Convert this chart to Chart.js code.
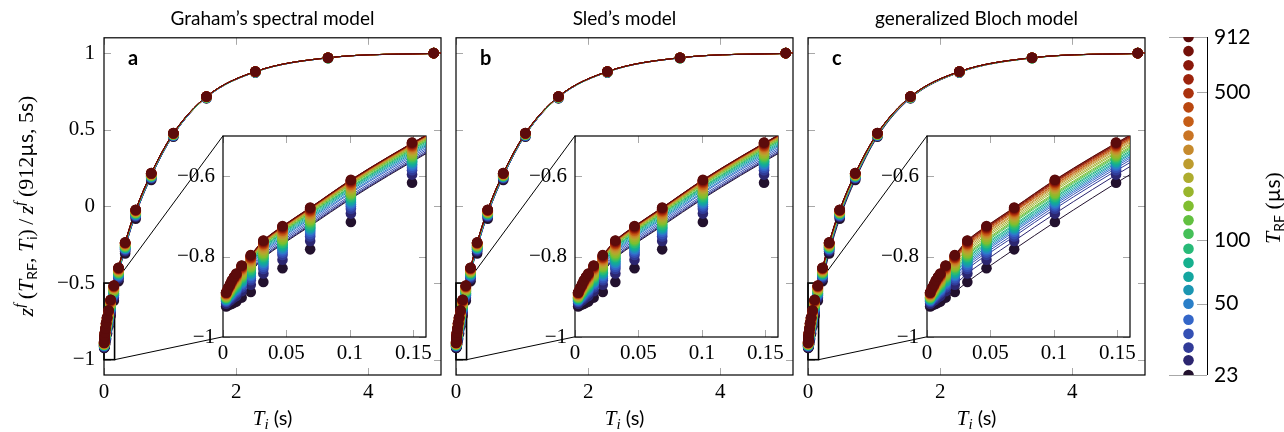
<!DOCTYPE html>
<html lang="en">
<head>
<meta charset="UTF-8">
<title>Inversion recovery, three MT models</title>
<script src="https://cdn.jsdelivr.net/npm/chart.js"></script>
<style>
  body { margin: 0; background: #fff; }
  #wrap { position: relative; width: 1284px; height: 432px; overflow: hidden; }
  #wrap canvas { position: absolute; }
</style>
</head>
<body>
<div id="wrap"></div>
<script>
// inversion times of the measured points (s)
const tiMeasured = [0.0025, 0.004, 0.0055, 0.007, 0.0087, 0.0105, 0.0147, 0.0219, 0.0318, 0.0469, 0.0687, 0.1008, 0.149, 0.22, 0.32, 0.48, 0.715, 1.05, 1.55, 2.29, 3.39, 4.99];
// RF pulse durations (µs), short to long
const trfValues = [23, 27, 31, 36, 42, 50, 58, 67, 78, 91, 107, 124, 145, 169, 197, 229, 267, 312, 363, 424, 494, 575, 671, 782, 912];
const trfColors = ['#22112e', '#2c2670', '#313b98', '#3450b4', '#3466c8', '#2a7fc8', '#1b96b2', '#14a6a0', '#16b08e', '#28ba78',
  '#45c058', '#62c040', '#80be30', '#99b52c', '#aeac2e', '#bd9c2e', '#c68a2c', '#c97424', '#c55d17', '#b9470f',
  '#aa320e', '#9c230c', '#8a180b', '#741009', '#5c0b0b'];

// normalised z-magnetisation, one row per T_RF (same order as trfValues)
const zMeasured = [
  [-0.924, -0.921, -0.919, -0.917, -0.914, -0.912, -0.902, -0.888, -0.863, -0.829, -0.782, -0.714, -0.616, -0.488, -0.307, -0.080, 0.173, 0.454, 0.705, 0.874, 0.968, 1.000],
  [-0.917, -0.912, -0.909, -0.905, -0.901, -0.898, -0.886, -0.870, -0.842, -0.808, -0.761, -0.693, -0.596, -0.470, -0.293, -0.068, 0.182, 0.459, 0.707, 0.875, 0.968, 1.000],
  [-0.913, -0.908, -0.904, -0.899, -0.894, -0.890, -0.877, -0.859, -0.831, -0.796, -0.750, -0.681, -0.585, -0.461, -0.285, -0.062, 0.187, 0.461, 0.709, 0.876, 0.969, 1.000],
  [-0.911, -0.905, -0.901, -0.896, -0.890, -0.886, -0.872, -0.854, -0.825, -0.790, -0.744, -0.675, -0.579, -0.455, -0.280, -0.059, 0.189, 0.463, 0.709, 0.876, 0.969, 1.000],
  [-0.909, -0.903, -0.898, -0.893, -0.887, -0.883, -0.868, -0.849, -0.820, -0.785, -0.738, -0.670, -0.574, -0.451, -0.277, -0.056, 0.191, 0.464, 0.710, 0.877, 0.969, 1.000],
  [-0.908, -0.901, -0.896, -0.890, -0.885, -0.880, -0.865, -0.846, -0.816, -0.781, -0.734, -0.666, -0.570, -0.448, -0.274, -0.053, 0.193, 0.465, 0.711, 0.877, 0.969, 1.000],
  [-0.907, -0.900, -0.894, -0.888, -0.882, -0.877, -0.862, -0.842, -0.812, -0.777, -0.730, -0.662, -0.566, -0.444, -0.271, -0.051, 0.195, 0.466, 0.711, 0.877, 0.969, 1.000],
  [-0.905, -0.898, -0.893, -0.886, -0.880, -0.875, -0.860, -0.839, -0.808, -0.773, -0.727, -0.658, -0.563, -0.441, -0.269, -0.049, 0.196, 0.467, 0.711, 0.877, 0.969, 1.000],
  [-0.904, -0.896, -0.891, -0.884, -0.878, -0.872, -0.856, -0.836, -0.804, -0.769, -0.723, -0.654, -0.559, -0.438, -0.266, -0.047, 0.198, 0.468, 0.712, 0.877, 0.969, 1.000],
  [-0.903, -0.895, -0.889, -0.882, -0.876, -0.870, -0.854, -0.833, -0.801, -0.766, -0.720, -0.651, -0.556, -0.435, -0.264, -0.045, 0.199, 0.468, 0.712, 0.878, 0.969, 1.000],
  [-0.902, -0.893, -0.887, -0.880, -0.873, -0.867, -0.851, -0.829, -0.797, -0.762, -0.715, -0.647, -0.552, -0.432, -0.261, -0.043, 0.201, 0.469, 0.713, 0.878, 0.969, 1.000],
  [-0.901, -0.892, -0.886, -0.878, -0.871, -0.865, -0.848, -0.826, -0.794, -0.759, -0.712, -0.644, -0.549, -0.429, -0.259, -0.041, 0.202, 0.470, 0.713, 0.878, 0.969, 1.000],
  [-0.900, -0.891, -0.884, -0.876, -0.869, -0.863, -0.846, -0.824, -0.791, -0.756, -0.709, -0.641, -0.546, -0.426, -0.257, -0.039, 0.204, 0.471, 0.713, 0.878, 0.969, 1.000],
  [-0.898, -0.889, -0.882, -0.874, -0.867, -0.860, -0.843, -0.820, -0.787, -0.751, -0.705, -0.636, -0.542, -0.423, -0.254, -0.037, 0.206, 0.472, 0.714, 0.878, 0.969, 1.000],
  [-0.897, -0.887, -0.880, -0.872, -0.864, -0.857, -0.840, -0.816, -0.783, -0.747, -0.701, -0.632, -0.538, -0.419, -0.251, -0.035, 0.207, 0.473, 0.714, 0.879, 0.970, 1.000],
  [-0.895, -0.886, -0.878, -0.869, -0.862, -0.855, -0.836, -0.813, -0.779, -0.743, -0.697, -0.628, -0.534, -0.416, -0.248, -0.032, 0.209, 0.474, 0.715, 0.879, 0.970, 1.000],
  [-0.894, -0.884, -0.877, -0.868, -0.860, -0.853, -0.834, -0.810, -0.775, -0.740, -0.694, -0.625, -0.531, -0.413, -0.246, -0.031, 0.210, 0.474, 0.715, 0.879, 0.970, 1.000],
  [-0.893, -0.883, -0.875, -0.866, -0.858, -0.850, -0.832, -0.807, -0.772, -0.737, -0.690, -0.622, -0.528, -0.411, -0.244, -0.029, 0.212, 0.475, 0.716, 0.879, 0.970, 1.000],
  [-0.893, -0.882, -0.874, -0.865, -0.856, -0.849, -0.830, -0.805, -0.770, -0.735, -0.688, -0.620, -0.526, -0.409, -0.242, -0.028, 0.213, 0.476, 0.716, 0.879, 0.970, 1.000],
  [-0.892, -0.881, -0.873, -0.864, -0.855, -0.848, -0.828, -0.803, -0.768, -0.732, -0.686, -0.617, -0.524, -0.407, -0.241, -0.027, 0.213, 0.476, 0.716, 0.880, 0.970, 1.000],
  [-0.891, -0.881, -0.872, -0.862, -0.854, -0.846, -0.827, -0.802, -0.766, -0.730, -0.684, -0.615, -0.522, -0.405, -0.239, -0.025, 0.214, 0.477, 0.716, 0.880, 0.970, 1.000],
  [-0.890, -0.880, -0.871, -0.861, -0.853, -0.845, -0.825, -0.800, -0.764, -0.728, -0.682, -0.613, -0.520, -0.404, -0.238, -0.024, 0.215, 0.477, 0.717, 0.880, 0.970, 1.000],
  [-0.890, -0.879, -0.871, -0.861, -0.852, -0.844, -0.824, -0.799, -0.763, -0.727, -0.681, -0.612, -0.519, -0.403, -0.237, -0.024, 0.216, 0.477, 0.717, 0.880, 0.970, 1.000],
  [-0.889, -0.878, -0.870, -0.860, -0.851, -0.843, -0.823, -0.797, -0.761, -0.725, -0.679, -0.610, -0.517, -0.401, -0.236, -0.023, 0.217, 0.478, 0.717, 0.880, 0.970, 1.000],
  [-0.889, -0.878, -0.869, -0.859, -0.850, -0.842, -0.822, -0.796, -0.760, -0.724, -0.678, -0.609, -0.516, -0.400, -0.235, -0.022, 0.217, 0.478, 0.717, 0.880, 0.970, 1.000]
];

// inversion times at which the fitted curves are sampled (s)
const tiFit = [0, 0.005, 0.0105, 0.0219, 0.0318, 0.0469, 0.0687, 0.1008, 0.16, 0.22, 0.32, 0.48, 0.715, 1.05, 1.55, 2.29, 3.39, 5.1];

// Graham's spectral model fit
const zFitGraham = [
  [-0.923, -0.901, -0.878, -0.838, -0.804, -0.769, -0.724, -0.656, -0.544, -0.442, -0.271, -0.051, 0.195, 0.466, 0.711, 0.877, 0.969, 1.000],
  [-0.922, -0.900, -0.877, -0.836, -0.802, -0.767, -0.722, -0.654, -0.542, -0.440, -0.270, -0.050, 0.196, 0.466, 0.711, 0.877, 0.969, 1.000],
  [-0.920, -0.897, -0.874, -0.833, -0.799, -0.764, -0.719, -0.651, -0.539, -0.437, -0.267, -0.048, 0.197, 0.467, 0.712, 0.877, 0.969, 1.000],
  [-0.917, -0.895, -0.871, -0.830, -0.795, -0.760, -0.715, -0.647, -0.535, -0.434, -0.264, -0.045, 0.199, 0.468, 0.712, 0.878, 0.969, 1.000],
  [-0.915, -0.892, -0.868, -0.826, -0.791, -0.756, -0.711, -0.642, -0.531, -0.430, -0.261, -0.043, 0.201, 0.469, 0.713, 0.878, 0.969, 1.000],
  [-0.913, -0.889, -0.865, -0.822, -0.788, -0.752, -0.707, -0.639, -0.527, -0.426, -0.258, -0.040, 0.203, 0.470, 0.713, 0.878, 0.969, 1.000],
  [-0.911, -0.887, -0.862, -0.820, -0.785, -0.749, -0.704, -0.635, -0.524, -0.424, -0.255, -0.038, 0.205, 0.471, 0.714, 0.878, 0.969, 1.000],
  [-0.909, -0.885, -0.860, -0.817, -0.782, -0.746, -0.701, -0.632, -0.521, -0.421, -0.253, -0.036, 0.206, 0.472, 0.714, 0.879, 0.970, 1.000],
  [-0.907, -0.883, -0.857, -0.814, -0.779, -0.743, -0.698, -0.629, -0.518, -0.418, -0.250, -0.034, 0.208, 0.473, 0.714, 0.879, 0.970, 1.000],
  [-0.906, -0.881, -0.856, -0.812, -0.777, -0.741, -0.695, -0.627, -0.515, -0.416, -0.249, -0.033, 0.209, 0.473, 0.715, 0.879, 0.970, 1.000],
  [-0.904, -0.880, -0.854, -0.810, -0.775, -0.739, -0.693, -0.625, -0.513, -0.414, -0.247, -0.032, 0.210, 0.474, 0.715, 0.879, 0.970, 1.000],
  [-0.903, -0.878, -0.852, -0.808, -0.772, -0.737, -0.691, -0.622, -0.511, -0.412, -0.245, -0.030, 0.211, 0.475, 0.715, 0.879, 0.970, 1.000],
  [-0.902, -0.877, -0.851, -0.806, -0.771, -0.735, -0.689, -0.620, -0.509, -0.410, -0.244, -0.029, 0.212, 0.475, 0.716, 0.879, 0.970, 1.000],
  [-0.901, -0.875, -0.849, -0.804, -0.769, -0.733, -0.687, -0.618, -0.507, -0.408, -0.242, -0.028, 0.213, 0.476, 0.716, 0.879, 0.970, 1.000],
  [-0.900, -0.874, -0.848, -0.803, -0.767, -0.732, -0.686, -0.617, -0.506, -0.407, -0.241, -0.027, 0.213, 0.476, 0.716, 0.879, 0.970, 1.000],
  [-0.899, -0.873, -0.847, -0.802, -0.766, -0.730, -0.684, -0.616, -0.504, -0.406, -0.240, -0.026, 0.214, 0.476, 0.716, 0.880, 0.970, 1.000],
  [-0.898, -0.873, -0.846, -0.801, -0.765, -0.729, -0.683, -0.614, -0.503, -0.405, -0.239, -0.025, 0.215, 0.477, 0.716, 0.880, 0.970, 1.000],
  [-0.898, -0.872, -0.845, -0.800, -0.764, -0.728, -0.682, -0.613, -0.502, -0.404, -0.238, -0.025, 0.215, 0.477, 0.716, 0.880, 0.970, 1.000],
  [-0.897, -0.871, -0.845, -0.799, -0.763, -0.727, -0.681, -0.612, -0.501, -0.403, -0.238, -0.024, 0.215, 0.477, 0.717, 0.880, 0.970, 1.000],
  [-0.896, -0.871, -0.844, -0.798, -0.762, -0.726, -0.680, -0.611, -0.500, -0.402, -0.237, -0.023, 0.216, 0.477, 0.717, 0.880, 0.970, 1.000],
  [-0.896, -0.870, -0.843, -0.798, -0.762, -0.726, -0.680, -0.611, -0.500, -0.402, -0.236, -0.023, 0.216, 0.478, 0.717, 0.880, 0.970, 1.000],
  [-0.896, -0.870, -0.843, -0.797, -0.761, -0.725, -0.679, -0.610, -0.499, -0.401, -0.236, -0.023, 0.216, 0.478, 0.717, 0.880, 0.970, 1.000],
  [-0.896, -0.870, -0.843, -0.797, -0.761, -0.725, -0.679, -0.610, -0.499, -0.401, -0.236, -0.023, 0.217, 0.478, 0.717, 0.880, 0.970, 1.000],
  [-0.895, -0.869, -0.842, -0.796, -0.761, -0.725, -0.679, -0.609, -0.499, -0.400, -0.235, -0.022, 0.217, 0.478, 0.717, 0.880, 0.970, 1.000],
  [-0.895, -0.869, -0.842, -0.796, -0.760, -0.724, -0.678, -0.609, -0.498, -0.400, -0.235, -0.022, 0.217, 0.478, 0.717, 0.880, 0.970, 1.000]
];
// Sled's model fit: not distinguishable from Graham's at this size
const zFitSled = zFitGraham;

// generalized Bloch model fit
const zFitBloch = [
  [-0.928, -0.919, -0.912, -0.888, -0.863, -0.829, -0.782, -0.714, -0.596, -0.488, -0.307, -0.080, 0.173, 0.454, 0.705, 0.874, 0.968, 1.000],
  [-0.921, -0.909, -0.898, -0.870, -0.842, -0.808, -0.761, -0.693, -0.576, -0.470, -0.293, -0.068, 0.182, 0.459, 0.707, 0.875, 0.968, 1.000],
  [-0.918, -0.904, -0.890, -0.859, -0.831, -0.796, -0.750, -0.681, -0.566, -0.461, -0.285, -0.062, 0.187, 0.461, 0.709, 0.876, 0.969, 1.000],
  [-0.916, -0.901, -0.886, -0.854, -0.825, -0.790, -0.744, -0.675, -0.560, -0.455, -0.280, -0.059, 0.189, 0.463, 0.709, 0.876, 0.969, 1.000],
  [-0.914, -0.898, -0.883, -0.849, -0.820, -0.785, -0.738, -0.670, -0.555, -0.451, -0.277, -0.056, 0.191, 0.464, 0.710, 0.877, 0.969, 1.000],
  [-0.913, -0.896, -0.880, -0.846, -0.816, -0.781, -0.734, -0.666, -0.551, -0.448, -0.274, -0.053, 0.193, 0.465, 0.711, 0.877, 0.969, 1.000],
  [-0.912, -0.894, -0.877, -0.842, -0.812, -0.777, -0.730, -0.662, -0.547, -0.444, -0.271, -0.051, 0.195, 0.466, 0.711, 0.877, 0.969, 1.000],
  [-0.911, -0.893, -0.875, -0.839, -0.808, -0.773, -0.727, -0.658, -0.544, -0.441, -0.269, -0.049, 0.196, 0.467, 0.711, 0.877, 0.969, 1.000],
  [-0.909, -0.891, -0.872, -0.836, -0.804, -0.769, -0.723, -0.654, -0.540, -0.438, -0.266, -0.047, 0.198, 0.468, 0.712, 0.877, 0.969, 1.000],
  [-0.908, -0.889, -0.870, -0.833, -0.801, -0.766, -0.720, -0.651, -0.537, -0.435, -0.264, -0.045, 0.199, 0.468, 0.712, 0.878, 0.969, 1.000],
  [-0.907, -0.887, -0.867, -0.829, -0.797, -0.762, -0.715, -0.647, -0.533, -0.432, -0.261, -0.043, 0.201, 0.469, 0.713, 0.878, 0.969, 1.000],
  [-0.906, -0.886, -0.865, -0.826, -0.794, -0.759, -0.712, -0.644, -0.530, -0.429, -0.259, -0.041, 0.202, 0.470, 0.713, 0.878, 0.969, 1.000],
  [-0.905, -0.884, -0.863, -0.824, -0.791, -0.756, -0.709, -0.641, -0.527, -0.426, -0.257, -0.039, 0.204, 0.471, 0.713, 0.878, 0.969, 1.000],
  [-0.904, -0.882, -0.860, -0.820, -0.787, -0.751, -0.705, -0.636, -0.523, -0.423, -0.254, -0.037, 0.206, 0.472, 0.714, 0.878, 0.969, 1.000],
  [-0.902, -0.880, -0.857, -0.816, -0.783, -0.747, -0.701, -0.632, -0.520, -0.419, -0.251, -0.035, 0.207, 0.473, 0.714, 0.879, 0.970, 1.000],
  [-0.901, -0.878, -0.855, -0.813, -0.779, -0.743, -0.697, -0.628, -0.516, -0.416, -0.248, -0.032, 0.209, 0.474, 0.715, 0.879, 0.970, 1.000],
  [-0.900, -0.877, -0.853, -0.810, -0.775, -0.740, -0.694, -0.625, -0.513, -0.413, -0.246, -0.031, 0.210, 0.474, 0.715, 0.879, 0.970, 1.000],
  [-0.899, -0.875, -0.850, -0.807, -0.772, -0.737, -0.690, -0.622, -0.510, -0.411, -0.244, -0.029, 0.212, 0.475, 0.716, 0.879, 0.970, 1.000],
  [-0.898, -0.874, -0.849, -0.805, -0.770, -0.735, -0.688, -0.620, -0.508, -0.409, -0.242, -0.028, 0.213, 0.476, 0.716, 0.879, 0.970, 1.000],
  [-0.898, -0.873, -0.848, -0.803, -0.768, -0.732, -0.686, -0.617, -0.506, -0.407, -0.241, -0.027, 0.213, 0.476, 0.716, 0.880, 0.970, 1.000],
  [-0.897, -0.872, -0.846, -0.802, -0.766, -0.730, -0.684, -0.615, -0.504, -0.405, -0.239, -0.025, 0.214, 0.477, 0.716, 0.880, 0.970, 1.000],
  [-0.896, -0.871, -0.845, -0.800, -0.764, -0.728, -0.682, -0.613, -0.502, -0.404, -0.238, -0.024, 0.215, 0.477, 0.717, 0.880, 0.970, 1.000],
  [-0.896, -0.871, -0.844, -0.799, -0.763, -0.727, -0.681, -0.612, -0.501, -0.403, -0.237, -0.024, 0.216, 0.477, 0.717, 0.880, 0.970, 1.000],
  [-0.895, -0.869, -0.843, -0.797, -0.761, -0.725, -0.679, -0.610, -0.499, -0.401, -0.236, -0.023, 0.217, 0.478, 0.717, 0.880, 0.970, 1.000],
  [-0.895, -0.869, -0.842, -0.796, -0.760, -0.724, -0.678, -0.609, -0.498, -0.400, -0.235, -0.022, 0.217, 0.478, 0.717, 0.880, 0.970, 1.000]
];

const mainXTicks = [0, 2, 4];
const mainYTicks = [-1, -0.5, 0, 0.5, 1];
const insetXTicks = [0, 0.05, 0.1, 0.15];
const insetYTicks = [-1, -0.8, -0.6];
const colorTicks = [23, 50, 100, 500, 912];

const panels = [
  { left: 104, title: 'Graham’s spectral model', letter: 'a', fit: zFitGraham },
  { left: 456, title: 'Sled’s model', letter: 'b', fit: zFitSled },
  { left: 808, title: 'generalized Bloch model', letter: 'c', fit: zFitBloch }
];

const SERIF = '"Liberation Serif", "DejaVu Serif", serif';
const SANS = 'Lato, "Noto Sans", sans-serif';
const TICK_GREY = '#a8a8a8';

const wrap = document.getElementById('wrap');
function addCanvas(left, top, w, h) {
  const c = document.createElement('canvas');
  c.width = w; c.height = h;
  c.style.left = left + 'px'; c.style.top = top + 'px';
  c.style.width = w + 'px'; c.style.height = h + 'px';
  wrap.appendChild(c);
  return c;
}

const fmt = v => (v < 0 ? '\u2212' : '') + Math.abs(v);
const fixTicks = list => s => { s.ticks = list.map(v => ({ value: v })); };
// fixed axis size, and no extra room reserved for edge labels
const fixSize = (prop, px) => s => {
  s[prop] = px;
  s.paddingLeft = s.paddingRight = s.paddingTop = s.paddingBottom = 0;
};

// mixed-font label (math italic + upright sans), optionally rotated
function richText(ctx, parts, x, y, rotated) {
  ctx.save();
  ctx.translate(x, y);
  if (rotated) ctx.rotate(-Math.PI / 2);
  ctx.fillStyle = '#000';
  ctx.textBaseline = 'alphabetic';
  ctx.textAlign = 'left';
  let w = 0;
  for (const p of parts) { ctx.font = p.font; w += ctx.measureText(p.t).width; }
  let cx = -w / 2;
  for (const p of parts) {
    ctx.font = p.font;
    ctx.fillText(p.t, cx, p.dy || 0);
    cx += ctx.measureText(p.t).width;
  }
  ctx.restore();
}

const it = s => `italic ${s}px ${SERIF}`;
const rm = s => `${s}px ${SERIF}`;
const sf = s => `${s}px ${SANS}`;

function innerTicks(ctx, a, x, y, len) {
  ctx.strokeStyle = TICK_GREY;
  ctx.lineWidth = 1;
  ctx.beginPath();
  x.ticks.forEach(t => {
    const px = Math.round(x.getPixelForValue(t.value)) + 0.5;
    ctx.moveTo(px, a.top); ctx.lineTo(px, a.top + len);
    ctx.moveTo(px, a.bottom); ctx.lineTo(px, a.bottom - len);
  });
  y.ticks.forEach(t => {
    const py = Math.round(y.getPixelForValue(t.value)) + 0.5;
    ctx.moveTo(a.left, py); ctx.lineTo(a.left + len, py);
    ctx.moveTo(a.right, py); ctx.lineTo(a.right - len, py);
  });
  ctx.stroke();
}

function frame(ctx, a) {
  ctx.strokeStyle = '#000';
  ctx.lineWidth = 1.2;
  ctx.strokeRect(a.left, a.top, a.right - a.left, a.bottom - a.top);
}

// inset placement relative to the main plot area (px)
const INSET = { dx: 119, dy: 98, w: 203, h: 201 };
const zoomX = [0, 0.16];
const zoomY = [-1, -0.5];

function seriesFor(fit, clip) {
  const ds = [];
  trfValues.forEach((t, k) => {
    ds.push({
      label: 'fit ' + t + ' µs',
      data: tiFit.map((ti, i) => ({ x: ti, y: fit[k][i] })),
      showLine: true,
      borderColor: trfColors[k],
      borderWidth: 1,
      pointRadius: 0,
      cubicInterpolationMode: 'monotone',
      order: 100 + 24 - k
    });
    ds.push({
      label: t + ' µs',
      data: tiMeasured.map((ti, i) => ({ x: ti, y: zMeasured[k][i] })),
      showLine: false,
      pointRadius: 5.3,
      pointBorderWidth: 0,
      backgroundColor: trfColors[k],
      borderColor: trfColors[k],
      order: 24 - k,
      clip: clip
    });
  });
  return ds;
}

const baseOpts = {
  responsive: false,
  animation: false,
  events: []
};

panels.forEach((p, n) => {
  const L = p.left;

  // main plot
  const mc = addCanvas(L - 100, 0, 440, 432);
  new Chart(mc, {
    type: 'scatter',
    data: { datasets: seriesFor(p.fit, false) },
    options: {
      ...baseOpts,
      layout: { autoPadding: false, padding: { left: 0, right: 3, top: 0, bottom: 0 } },
      plugins: {
        legend: { display: false },
        tooltip: { enabled: false },
        title: {
          display: true, text: p.title, fullSize: false, color: '#000',
          font: { family: SANS, size: 19, weight: 'normal' },
          padding: { top: 7, bottom: 8 }
        }
      },
      scales: {
        x: {
          type: 'linear', min: 0, max: 5.1,
          afterBuildTicks: fixTicks(mainXTicks),
          afterFit: fixSize('height', 57),
          grid: { display: false, drawTicks: false }, border: { display: false },
          ticks: { color: '#000', font: { family: SERIF, size: 21 }, padding: 5, maxRotation: 0, autoSkip: false, callback: fmt }
        },
        y: {
          type: 'linear', min: -1.1, max: 1.1,
          afterBuildTicks: fixTicks(mainYTicks),
          afterFit: fixSize('width', 100),
          grid: { display: false, drawTicks: false }, border: { display: false },
          ticks: { display: n === 0, color: '#000', font: { family: SERIF, size: 21 }, padding: 9, autoSkip: false, callback: fmt }
        }
      }
    },
    plugins: [{
      id: 'mainDecor',
      beforeDatasetsDraw(chart) {
        const { ctx, chartArea: a, scales: { x, y } } = chart;
        ctx.save();
        innerTicks(ctx, a, x, y, 7);
        frame(ctx, a);
        // zoom box and connectors to the inset
        const bx0 = x.getPixelForValue(zoomX[0]), bx1 = x.getPixelForValue(zoomX[1]);
        const by0 = y.getPixelForValue(zoomY[1]), by1 = y.getPixelForValue(zoomY[0]);
        const ix = a.left + INSET.dx, iy0 = a.top + INSET.dy, iy1 = iy0 + INSET.h;
        ctx.strokeStyle = '#000';
        ctx.lineWidth = 1;
        ctx.beginPath();
        ctx.moveTo(bx1, by0); ctx.lineTo(ix, iy0);
        ctx.moveTo(bx1, by1); ctx.lineTo(ix, iy1);
        ctx.stroke();
        ctx.lineWidth = 1.6;
        ctx.strokeRect(bx0, by0, bx1 - bx0, by1 - by0);
        ctx.restore();
      },
      afterDraw(chart) {
        const { ctx, chartArea: a } = chart;
        ctx.save();
        ctx.fillStyle = '#000';
        ctx.font = `bold 20px ${SANS}`;
        ctx.textBaseline = 'alphabetic';
        ctx.fillText(p.letter, a.left + 24, a.top + 27);
        ctx.restore();
        richText(ctx, [
          { t: 'T', font: it(21) },
          { t: 'i', font: it(15), dy: 4 },
          { t: ' (s)', font: sf(20) }
        ], (a.left + a.right) / 2, 425, false);
        if (n === 0) {
          richText(ctx, [
            { t: 'z', font: it(22) },
            { t: 'f', font: it(15), dy: -9 },
            { t: '\u2009(', font: rm(22) },
            { t: 'T', font: it(22) },
            { t: 'RF', font: sf(14), dy: 4 },
            { t: ', ', font: rm(22) },
            { t: 'T', font: it(22) },
            { t: 'i', font: sf(14), dy: 4 },
            { t: ')\u2009/\u2009', font: rm(22) },
            { t: 'z', font: it(22) },
            { t: 'f', font: it(15), dy: -9 },
            { t: '\u2009(912', font: rm(22) },
            { t: 'µs', font: sf(21) },
            { t: ', 5', font: rm(22) },
            { t: 's', font: sf(21) },
            { t: ')', font: rm(22) }
          ], 33 - (L - 100), 206, true);
        }
      }
    }]
  });

  // zoomed inset
  const ic = addCanvas(L + INSET.dx - 70, 38 + INSET.dy - 5, 70 + INSET.w + 5, 5 + INSET.h + 30);
  new Chart(ic, {
    type: 'scatter',
    data: { datasets: seriesFor(p.fit, { left: 8, top: 0, right: 0, bottom: 8 }) },
    options: {
      ...baseOpts,
      layout: { autoPadding: false, padding: { left: 0, right: 5, top: 5, bottom: 0 } },
      plugins: { legend: { display: false }, tooltip: { enabled: false } },
      scales: {
        x: {
          type: 'linear', min: zoomX[0], max: zoomX[1],
          afterBuildTicks: fixTicks(insetXTicks),
          afterFit: fixSize('height', 30),
          grid: { display: false, drawTicks: false }, border: { display: false },
          ticks: { color: '#000', font: { family: SERIF, size: 21 }, padding: 4, maxRotation: 0, autoSkip: false, callback: fmt }
        },
        y: {
          type: 'linear', min: zoomY[0], max: zoomY[1],
          afterBuildTicks: fixTicks(insetYTicks),
          afterFit: fixSize('width', 70),
          grid: { display: false, drawTicks: false }, border: { display: false },
          ticks: { color: '#000', font: { family: SERIF, size: 21 }, padding: 8, autoSkip: false, callback: fmt }
        }
      }
    },
    plugins: [{
      id: 'insetDecor',
      beforeDatasetsDraw(chart) {
        const { ctx, chartArea: a, scales: { x, y } } = chart;
        ctx.save();
        ctx.fillStyle = '#fff';
        ctx.fillRect(a.left, a.top, a.right - a.left, a.bottom - a.top);
        innerTicks(ctx, a, x, y, 7);
        frame(ctx, a);
        ctx.restore();
      }
    }]
  });
});

// colour bar for T_RF
const cb = addCanvas(1160, 0, 124, 432);
new Chart(cb, {
  type: 'scatter',
  data: {
    datasets: [{
      label: 'T_RF',
      data: trfValues.map(v => ({ x: 0, y: v })),
      pointRadius: 5.3,
      pointBorderWidth: 0,
      backgroundColor: trfColors,
      borderColor: trfColors
    }]
  },
  options: {
    ...baseOpts,
    layout: { autoPadding: false, padding: { left: 10, right: 0, top: 37, bottom: 57 } },
    plugins: { legend: { display: false }, tooltip: { enabled: false } },
    scales: {
      x: { type: 'linear', display: false, min: -1, max: 1 },
      y: {
        type: 'logarithmic', position: 'right', min: 23, max: 912,
        afterBuildTicks: fixTicks(colorTicks),
        afterFit: fixSize('width', 77),
        grid: { display: false, drawTicks: false }, border: { display: false },
        ticks: { color: '#000', font: { family: SANS, size: 21 }, padding: 7, autoSkip: false, callback: v => String(v) }
      }
    }
  },
  plugins: [{
    id: 'cbDecor',
    beforeDatasetsDraw(chart) {
      const { ctx, chartArea: a, scales: { y } } = chart;
      ctx.save();
      ctx.strokeStyle = TICK_GREY;
      ctx.lineWidth = 1;
      ctx.beginPath();
      colorTicks.forEach((v, i) => {
        const py = Math.round(y.getPixelForValue(v)) + 0.5;
        const ends = i === 0 || i === colorTicks.length - 1;
        ctx.moveTo(ends ? a.left - 1 : a.right - 10, py);
        ctx.lineTo(a.right, py);
      });
      ctx.stroke();
      ctx.strokeStyle = '#000';
      ctx.beginPath();
      ctx.moveTo(Math.round(a.right) + 0.5, a.top);
      ctx.lineTo(Math.round(a.right) + 0.5, a.bottom);
      ctx.stroke();
      ctx.restore();
    },
    afterDraw(chart) {
      richText(chart.ctx, [
        { t: 'T', font: it(22) },
        { t: 'RF', font: sf(14), dy: 4 },
        { t: ' (', font: rm(22) },
        { t: 'µs', font: sf(21) },
        { t: ')', font: rm(22) }
      ], 120, 208, true);
    }
  }]
});
</script>
</body>
</html>
